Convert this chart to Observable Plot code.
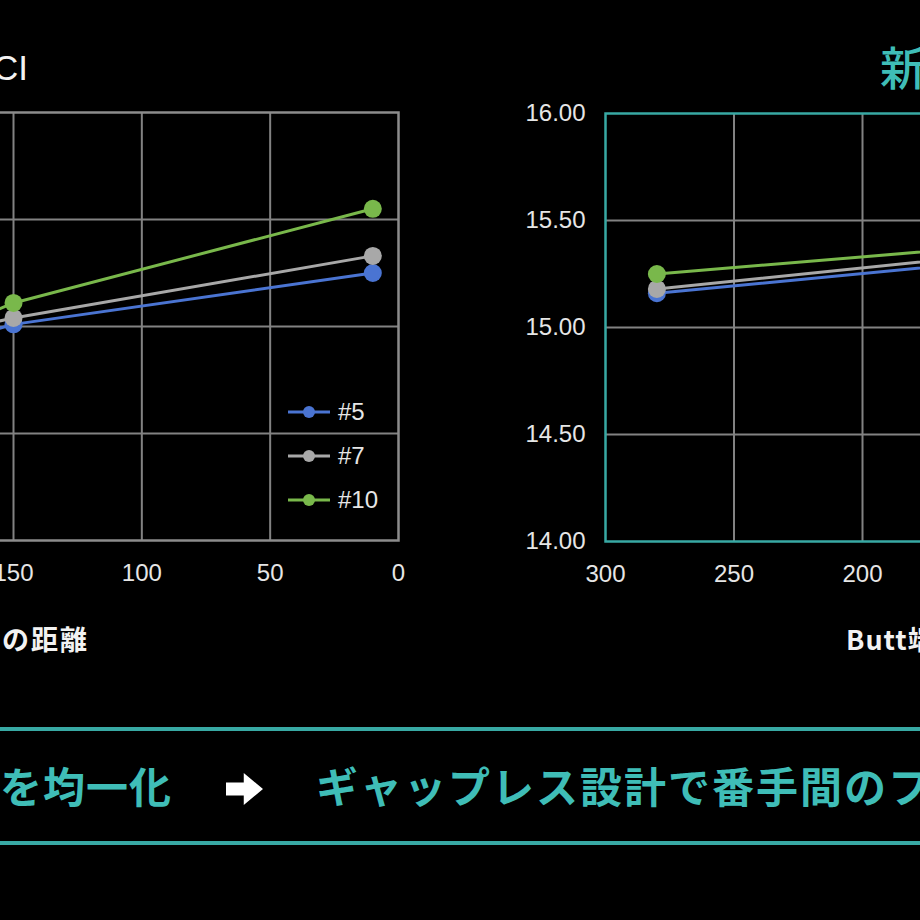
<!DOCTYPE html>
<html>
<head>
<meta charset="utf-8">
<script src="https://cdn.jsdelivr.net/npm/d3@7"></script>
<script src="https://cdn.jsdelivr.net/npm/@observablehq/plot@0.6"></script>
<style>
  html, body { margin: 0; padding: 0; background: #000; }
  #page { position: relative; width: 920px; height: 920px; overflow: hidden; background: #000; }
  .abs { position: absolute; white-space: nowrap; line-height: 1; }
  .jp { font-family: "Noto Sans CJK JP", sans-serif; font-weight: 700; }
  .num { font-family: "Liberation Sans", Arial, sans-serif; }
  .legend-row { position: absolute; display: flex; align-items: center; height: 30px; }
  .legend-row span { font-family: "Liberation Sans", Arial, sans-serif; font-size: 24px; color: #e6e6e6; margin-left: 8px; }
</style>
</head>
<body>
<div id="page"></div>
<script>
// ---- data ----
const series = ["#5", "#7", "#10"];
const seriesColors = ["#4a74d2", "#a8a8a8", "#79b84b"];

const xTicksLeft = [150, 100, 50, 0];      // ticks shown on the left chart
const xTicksRight = [300, 250, 200];       // ticks shown on the right chart
const yTicks = [14.0, 14.5, 15.0, 15.5, 16.0];

// left chart (distance from Butt end, CI)
const distLeft = [280, 150, 10];
const left5 = [14.58, 15.01, 15.25];
const left7 = [14.70, 15.04, 15.33];
const left10 = [14.45, 15.11, 15.55];

// right chart
const distRight = [280, 150];
const right5 = [15.16, 15.31];
const right7 = [15.18, 15.34];
const right10 = [15.25, 15.38];

const leftTitle = "CI";
const rightTitle = "新";
const xLabel = "Butt端からの距離";
const bannerLeft = "を均一化";
const bannerRight = "ギャップレス設計で番手間のフ";

// ---- styling ----
const teal = "#3fbdb7";
const tealFrame = "#38a9a4";
const gridColor = "#828282";
const textColor = "#e6e6e6";

function buildRows(dist, vals) {
  return series.flatMap((s, i) => dist.map((d, j) => ({series: s, dist: d, value: vals[i][j]})));
}
const leftData = buildRows(distLeft, [left5, left7, left10]);
const rightData = buildRows(distRight, [right5, right7, right10]);

const page = document.getElementById("page");

function makeChart({data, width, marginLeft, marginRight, marginTop, marginBottom, frameColor, xGrid, yGrid, xTicks, showY}) {
  const marks = [
    Plot.ruleX(xGrid, {stroke: gridColor, strokeWidth: 2}),
    Plot.ruleY(yGrid, {stroke: gridColor, strokeWidth: 2}),
    Plot.frame({stroke: frameColor, strokeWidth: 2.5}),
    Plot.axisX({ticks: xTicks, tickSize: 0, tickPadding: 23, fill: textColor})
  ];
  if (showY) marks.push(Plot.axisY({ticks: yTicks, tickSize: 0, tickPadding: 20, tickFormat: d3.format(".2f"), fill: textColor}));
  marks.push(
    Plot.line(data, {x: "dist", y: "value", stroke: "series", z: "series", strokeWidth: 3}),
    Plot.dot(data, {x: "dist", y: "value", fill: "series", r: 9})
  );
  return Plot.plot({
    width, height: marginTop + 428 + marginBottom,
    marginLeft, marginRight, marginTop, marginBottom,
    style: {background: "transparent", color: textColor, fontSize: "24px", fontFamily: "Liberation Sans, Arial, sans-serif"},
    x: {domain: [300, 0], label: null},
    y: {domain: [14, 16], label: null, axis: showY ? undefined : null},
    color: {domain: series, range: seriesColors},
    marks
  });
}

// left chart: plot area x from -372 to 398, y from 112 to 540
const leftChart = makeChart({
  data: leftData, width: 870, marginLeft: 60, marginRight: 40, marginTop: 112, marginBottom: 80,
  frameColor: "#8c8c8c", xGrid: [300, 250, 200, 150, 100, 50], yGrid: [14.5, 15.0, 15.5],
  xTicks: xTicksLeft, showY: false
});
leftChart.style.position = "absolute";
leftChart.style.left = "-432px";
leftChart.style.top = "0px";
page.appendChild(leftChart);

// right chart: plot area x from 605, y from 113 to 541
const rightChart = makeChart({
  data: rightData, width: 911, marginLeft: 100, marginRight: 40, marginTop: 113, marginBottom: 79,
  frameColor: tealFrame, xGrid: [250, 200, 150, 100, 50], yGrid: [14.5, 15.0, 15.5],
  xTicks: xTicksRight, showY: true
});
rightChart.style.position = "absolute";
rightChart.style.left = "505px";
rightChart.style.top = "0px";
page.appendChild(rightChart);

function addText(txt, cls, css) {
  const d = document.createElement("div");
  d.className = "abs " + cls;
  d.textContent = txt;
  Object.assign(d.style, css);
  page.appendChild(d);
  return d;
}

// titles
addText(leftTitle, "num", {left: "-7px", top: "50px", fontSize: "35px", color: "#f2f2f2"});
addText(rightTitle, "jp", {left: "880px", top: "42px", fontSize: "46px", color: teal, fontWeight: "500"});

// x-axis labels
addText(xLabel, "jp", {right: "831px", top: "625px", fontSize: "27px", color: "#f2f2f2", letterSpacing: "2px"});
addText(xLabel, "jp", {left: "846px", top: "625px", fontSize: "27px", color: "#f2f2f2", letterSpacing: "1px"});

// legend (left chart)
series.forEach((s, i) => {
  const row = document.createElement("div");
  row.className = "legend-row";
  row.style.left = "288px";
  row.style.top = (397 + i * 44) + "px";
  const ns = "http://www.w3.org/2000/svg";
  const svg = document.createElementNS(ns, "svg");
  svg.setAttribute("width", "42");
  svg.setAttribute("height", "14");
  const ln = document.createElementNS(ns, "line");
  ln.setAttribute("x1", "0"); ln.setAttribute("x2", "42");
  ln.setAttribute("y1", "7"); ln.setAttribute("y2", "7");
  ln.setAttribute("stroke", seriesColors[i]); ln.setAttribute("stroke-width", "3");
  const c = document.createElementNS(ns, "circle");
  c.setAttribute("cx", "21"); c.setAttribute("cy", "7"); c.setAttribute("r", "6");
  c.setAttribute("fill", seriesColors[i]);
  svg.appendChild(ln); svg.appendChild(c);
  const label = document.createElement("span");
  label.textContent = s;
  row.appendChild(svg); row.appendChild(label);
  page.appendChild(row);
});

// banner
const lineTop = document.createElement("div");
Object.assign(lineTop.style, {position: "absolute", left: "0px", top: "727px", width: "920px", height: "4px", background: tealFrame});
page.appendChild(lineTop);
const lineBot = document.createElement("div");
Object.assign(lineBot.style, {position: "absolute", left: "0px", top: "841px", width: "920px", height: "4px", background: tealFrame});
page.appendChild(lineBot);

addText(bannerLeft, "jp", {left: "0px", top: "764px", fontSize: "42px", color: teal, letterSpacing: "1px"});
// block arrow (decoration)
const arrow = document.createElement("div");
Object.assign(arrow.style, {
  position: "absolute", left: "226px", top: "773px", width: "37px", height: "32px", background: "#ffffff",
  clipPath: "polygon(0 30%, 48% 30%, 48% 0, 100% 50%, 48% 100%, 48% 70%, 0 70%)"
});
page.appendChild(arrow);
addText(bannerRight, "jp", {left: "316px", top: "764px", fontSize: "42px", color: teal, letterSpacing: "2px"});
</script>
</body>
</html>
